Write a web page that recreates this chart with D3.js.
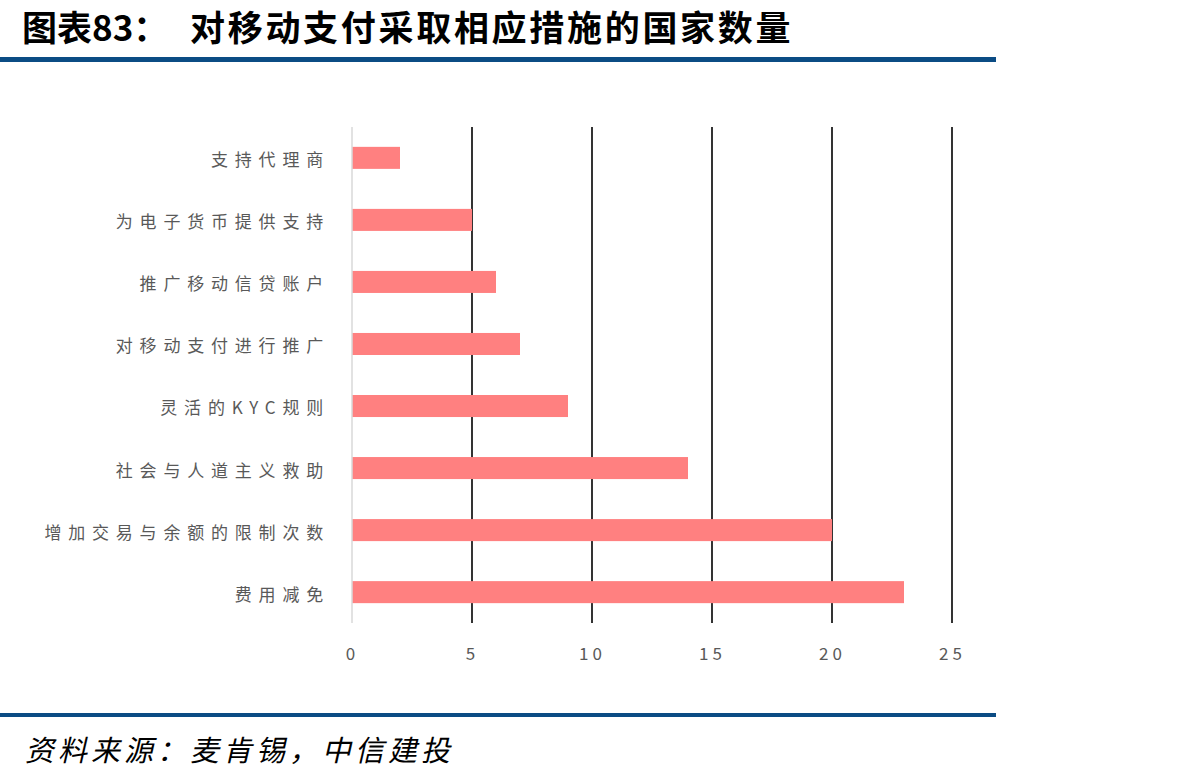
<!DOCTYPE html>
<html>
<head>
<meta charset="utf-8">
<script src="https://cdn.jsdelivr.net/npm/d3@7"></script>
<style>
  body { margin: 0; background: #fff; }
  svg { display: block; }
</style>
</head>
<body>
<div id="chart"></div>
<script>
const categories = ["支持代理商", "为电子货币提供支持", "推广移动信贷账户", "对移动支付进行推广", "灵活的KYC规则", "社会与人道主义救助", "增加交易与余额的限制次数", "费用减免"];
const values = [2, 5, 6, 7, 9, 14, 20, 23];
const tickValues = [0, 5, 10, 15, 20, 25];
const titleText = "图表83：";
const titleMain = "对移动支付采取相应措施的国家数量";
const sourceText = "资料来源：麦肯锡，中信建投";

const W = 1189, H = 782;
const svg = d3.select("#chart").append("svg").attr("width", W).attr("height", H);
const font = "'Noto Sans CJK SC', 'Noto Sans', sans-serif";

// header
svg.append("text").attr("x", 22).attr("y", 41)
  .attr("font-family", font).attr("font-weight", "bold").attr("font-size", 35)
  .attr("fill", "#000").text(titleText);
svg.append("text").attr("x", 190).attr("y", 41)
  .attr("font-family", font).attr("font-weight", "bold").attr("font-size", 35)
  .attr("letter-spacing", 2.7).attr("fill", "#000").text(titleMain);
svg.append("rect").attr("x", 0).attr("y", 57).attr("width", 996).attr("height", 5).attr("fill", "#0b4c84");

// chart
const x = d3.scaleLinear().domain([0, 25]).range([352, 952]);
const y = d3.scaleBand().domain(categories).range([127, 623]).paddingInner(0.645).paddingOuter(0.32);

const g = svg.append("g");
g.selectAll(".grid").data(tickValues.slice(1)).join("line")
  .attr("x1", d => x(d)).attr("x2", d => x(d))
  .attr("y1", 127).attr("y2", 623)
  .attr("stroke", "#000").attr("stroke-width", 1.6);

g.selectAll(".bar").data(values).join("rect")
  .attr("x", x(0))
  .attr("y", (d, i) => y(categories[i]))
  .attr("width", d => x(d) - x(0))
  .attr("height", y.bandwidth())
  .attr("fill", "#ff8080");

g.append("line").attr("x1", x(0)).attr("x2", x(0)).attr("y1", 127).attr("y2", 623)
  .attr("stroke", "#d9d9d9").attr("stroke-width", 1.5);

const xAxis = d3.axisBottom(x).tickValues(tickValues).tickSize(0).tickPadding(0);
const ax = svg.append("g").attr("transform", "translate(0,660)").call(xAxis);
ax.select(".domain").remove();
ax.selectAll("text").attr("font-family", font).attr("font-size", 17)
  .attr("letter-spacing", 4).attr("fill", "#595959").attr("dy", 0).attr("dx", 0);

const yAxis = d3.axisLeft(y).tickSize(0).tickPadding(0);
const ay = svg.append("g").attr("transform", "translate(330,3)").call(yAxis);
ay.select(".domain").remove();
ay.selectAll("text").attr("font-family", font).attr("font-size", 17)
  .attr("letter-spacing", 6.8).attr("fill", "#595959");

// footer
svg.append("rect").attr("x", 0).attr("y", 713).attr("width", 996).attr("height", 4).attr("fill", "#0b4c84");
svg.append("g").attr("transform", "translate(25,761) skewX(-13)")
  .append("text")
  .attr("font-family", font).attr("font-size", 29)
  .attr("letter-spacing", 4).attr("fill", "#000")
  .text(sourceText);
</script>
</body>
</html>
